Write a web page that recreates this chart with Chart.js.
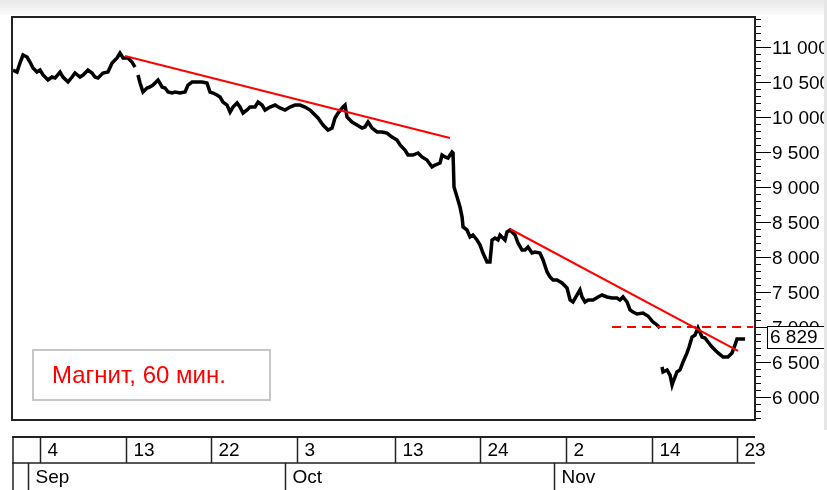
<!DOCTYPE html>
<html>
<head>
<meta charset="utf-8">
<script src="https://cdn.jsdelivr.net/npm/chart.js@4.4.1/dist/chart.umd.min.js"></script>
<style>
  html, body { margin: 0; padding: 0; background: #fff; }
  #wrap { width: 827px; height: 490px; position: relative; }
</style>
</head>
<body>
<div id="wrap"><canvas id="chart" width="827" height="490"></canvas></div>
<script>
// x = trading days counted from 4 Sep, y = price (null = gap)
const days = [
  -2.21, -1.88, -1.64, -1.39, -1.06, -0.82, -0.57, -0.25, 0, 0.25, 0.65, 0.98, 1.23, 1.64, 1.88, 2.29,
  2.62, 2.86, 3.27, 3.52, 3.92, 4.25, 4.50, 4.74, 5.15, 5.56, 5.89, 6.30, 6.54, 6.79, 7.20, 7.52, 7.77,
  7.89,
  8.01, 8.18, 8.42, 8.75, 8.99, 9.24, 9.65, 9.98, 10.22, 10.47, 10.79, 11.04, 11.45, 11.86, 12.10, 12.43,
  12.84, 13.25, 13.65, 13.90, 14.15, 14.47, 14.72, 14.96, 15.29, 15.54, 15.78, 16.11, 16.35, 16.60, 16.93,
  17.17, 17.58, 17.83, 18.15, 18.40, 18.81, 19.22, 19.62, 20.03, 20.44, 20.85, 21.26, 21.67, 22.08, 22.32,
  22.73, 23.14, 23.55, 23.88, 24.12, 24.37, 24.78, 24.94, 25.10, 25.51, 25.92, 26.33, 26.57, 26.82, 27.15,
  27.56, 27.96, 28.37, 28.78, 29.19, 29.44, 29.84, 30.09, 30.50, 30.91, 31.23, 31.64, 32.05, 32.30, 32.71,
  32.87, 33.12, 33.36, 33.69, 33.77, 33.85, 34.10, 34.34, 34.51, 34.59, 34.91, 35.16, 35.40, 35.73, 35.98,
  36.22, 36.55, 36.79, 36.96, 37.20, 37.45, 37.61, 38.02, 38.18, 38.43, 38.84, 39.08, 39.41, 39.66, 39.90,
  40.23, 40.47, 40.88, 41.13, 41.46, 41.70, 41.95, 42.27, 42.68, 43.09, 43.34, 43.58, 43.91, 44.15, 44.32,
  44.56, 44.81, 45.22, 45.63, 45.95, 46.36, 46.77, 47.18, 47.42, 47.67, 48.00, 48.24, 48.49, 48.81, 49.30,
  49.71, 50.12, 50.45, 50.69,
  50.78,
  50.86, 50.94, 51.27, 51.51, 51.68, 51.76, 52.08, 52.33, 52.58, 52.90, 53.07, 53.31, 53.56, 53.80, 54.13,
  54.37, 54.62, 54.95, 55.19, 55.44, 55.85, 56.25, 56.58, 56.83, 56.99, 57.24, 57.65
];
const prices = [
  10671, 10643, 10771, 10886, 10857, 10786, 10700, 10643, 10671, 10600, 10529, 10571, 10557, 10643, 10571, 10500,
  10571, 10629, 10571, 10600, 10671, 10629, 10571, 10557, 10629, 10643, 10771, 10843, 10914, 10843, 10843, 10786, 10714,
  null,
  10600, 10486, 10357, 10414, 10429, 10457, 10529, 10429, 10414, 10357, 10343, 10357, 10343, 10357, 10457, 10500,
  10500, 10500, 10486, 10357, 10343, 10314, 10286, 10214, 10171, 10071, 10143, 10200, 10143, 10057, 10100,
  10143, 10143, 10214, 10171, 10100, 10143, 10171, 10129, 10100, 10143, 10171, 10171, 10143, 10100, 10057,
  9986, 9886, 9814, 9843, 9986, 10057, 10143, 10171, 10000, 9929, 9886, 9843, 9857, 9929, 9843,
  9786, 9786, 9771, 9714, 9671, 9600, 9529, 9457, 9457, 9486, 9429, 9386, 9286, 9314, 9343,
  9457, 9429, 9414, 9500, 9486, 9000, 8857, 8714, 8571, 8429, 8386, 8286, 8314, 8243, 8171,
  8057, 7929, 7929, 8243, 8271, 8243, 8314, 8243, 8357, 8386, 8314, 8200, 8100, 8100, 8143,
  8057, 8071, 8057, 7957, 7786, 7714, 7671, 7671, 7629, 7557, 7386, 7357, 7457, 7529, 7429,
  7357, 7386, 7386, 7429, 7457, 7429, 7414, 7414, 7386, 7429, 7357, 7243, 7214, 7186, 7200,
  7157, 7071, 7029, 6986,
  null,
  6429, 6357, 6386, 6314, 6171, 6214, 6357, 6386, 6500, 6629, 6714, 6857, 6886, 6986, 6857,
  6843, 6786, 6714, 6671, 6629, 6571, 6571, 6629, 6743, 6829, 6829, 6829
];

// red trend lines and the 7 000 level
const trend1Days = [6.95, 33.52];
const trend1Prices = [10871, 9700];
const trend2Days = [38.43, 57.07];
const trend2Prices = [8400, 6657];
const levelDays = [46.77, 58.3];
const levelPrices = [7000, 7000];

const lastPrice = 6829;

// bottom date panel
const dayTicks = [0, 7, 14, 21, 29, 36, 43, 50, 57];
const dayLabels = ['4', '13', '22', '3', '13', '24', '2', '14', '23'];
const monthStarts = [-1, 20, 42];
const monthLabels = ['Sep', 'Oct', 'Nov'];

const yMin = 5671, yMax = 11429;
const xMin = -2.29, xMax = 58.46;

const title = 'Магнит, 60 мин.';

const pts = (xs, ys) => xs.map((x, i) => ({ x, y: ys[i] }));

function fmt(v) {
  const s = String(v);
  return s.length > 3 ? s.slice(0, -3) + ' ' + s.slice(-3) : s;
}

const FONT = '19px "Liberation Sans", Arial, sans-serif';

const decorPlugin = {
  id: 'decor',
  beforeDraw(chart) {
    const ctx = chart.ctx;
    ctx.save();
    ctx.fillStyle = '#fff';
    ctx.fillRect(0, 0, chart.width, chart.height);
    const g = ctx.createLinearGradient(0, 0, 0, 15);
    g.addColorStop(0, '#e9e9e9');
    g.addColorStop(1, '#fbfbfb');
    ctx.fillStyle = g;
    ctx.fillRect(0, 0, chart.width, 15);
    ctx.restore();
  },
  afterDraw(chart) {
    const ctx = chart.ctx;
    const { left, top, right, bottom } = chart.chartArea;
    const y = chart.scales.y;
    const x = chart.scales.x;
    ctx.save();

    // plot frame
    ctx.strokeStyle = '#222';
    ctx.lineWidth = 2;
    ctx.strokeRect(left, top, right - left, bottom - top);

    // right axis ticks + labels
    ctx.lineWidth = 1;
    ctx.strokeStyle = '#000';
    ctx.fillStyle = '#000';
    ctx.font = FONT;
    ctx.textBaseline = 'middle';
    ctx.textAlign = 'left';
    for (let v = 5700; v <= 11400; v += 100) {
      const py = Math.round(y.getPixelForValue(v)) + 0.5;
      const major = v % 500 === 0;
      ctx.beginPath();
      ctx.moveTo(right + 1, py);
      ctx.lineTo(right + (major ? 16 : 6), py);
      ctx.stroke();
      if (major) ctx.fillText(fmt(v), right + 17, py + 1);
    }

    // last price box
    const cy = y.getPixelForValue(lastPrice) - 2;
    ctx.fillStyle = '#fff';
    ctx.fillRect(right + 12, cy - 11, 80, 22);
    ctx.strokeRect(right + 12.5, Math.round(cy - 11) + 0.5, 80, 22);
    ctx.fillStyle = '#000';
    ctx.fillText(fmt(lastPrice), right + 15, cy + 1);

    // label box
    ctx.strokeStyle = '#c6c6c6';
    ctx.lineWidth = 2;
    ctx.strokeRect(33, 350, 237, 50);
    ctx.fillStyle = '#ff0000';
    ctx.font = '24px "Liberation Sans", Arial, sans-serif';
    ctx.textBaseline = 'alphabetic';
    ctx.fillText(title, 52, 383);

    // date panel
    const pTop = 437, pMid = 463, pBot = 490;
    ctx.strokeStyle = '#222';
    ctx.lineWidth = 2;
    ctx.beginPath();
    ctx.moveTo(left, pTop); ctx.lineTo(right, pTop);
    ctx.stroke();
    ctx.lineWidth = 1.5;
    ctx.beginPath();
    ctx.moveTo(left, pMid); ctx.lineTo(right, pMid);
    ctx.moveTo(left + 1, pTop); ctx.lineTo(left + 1, pBot);
    ctx.stroke();
    ctx.fillStyle = '#000';
    ctx.font = FONT;
    ctx.textBaseline = 'middle';
    dayTicks.forEach((d, i) => {
      const px = Math.round(x.getPixelForValue(d)) + 0.5;
      ctx.beginPath();
      ctx.moveTo(px, pTop); ctx.lineTo(px, pMid);
      ctx.stroke();
      ctx.fillText(dayLabels[i], px + 7, (pTop + pMid) / 2 + 1);
    });
    monthStarts.forEach((d, i) => {
      const px = Math.round(x.getPixelForValue(d)) + 0.5;
      ctx.beginPath();
      ctx.moveTo(px, pMid); ctx.lineTo(px, pBot);
      ctx.stroke();
      ctx.fillText(monthLabels[i], px + 7, pMid + 15);
    });

    // window edge on the right
    ctx.fillStyle = '#e6e6e6';
    ctx.fillRect(824, 0, 3, 430);
    ctx.restore();
  }
};

new Chart(document.getElementById('chart'), {
  type: 'line',
  data: {
    datasets: [
      {
        data: pts(days, prices),
        borderColor: '#000',
        borderWidth: 3.5,
        pointRadius: 0,
        tension: 0,
        spanGaps: false,
        order: 2
      },
      {
        data: pts(trend1Days, trend1Prices),
        borderColor: '#ff0000',
        borderWidth: 2,
        pointRadius: 0,
        order: 1
      },
      {
        data: pts(trend2Days, trend2Prices),
        borderColor: '#ff0000',
        borderWidth: 2,
        pointRadius: 0,
        order: 1
      },
      {
        data: pts(levelDays, levelPrices),
        borderColor: '#ff0000',
        borderWidth: 2,
        borderDash: [9, 6],
        pointRadius: 0,
        order: 1
      }
    ]
  },
  options: {
    responsive: false,
    animation: false,
    layout: { padding: { left: 12, top: 17, right: 72, bottom: 70 } },
    scales: {
      x: { type: 'linear', display: false, min: xMin, max: xMax },
      y: { display: false, min: yMin, max: yMax }
    },
    plugins: {
      legend: { display: false },
      tooltip: { enabled: false }
    }
  },
  plugins: [decorPlugin]
});
</script>
</body>
</html>
